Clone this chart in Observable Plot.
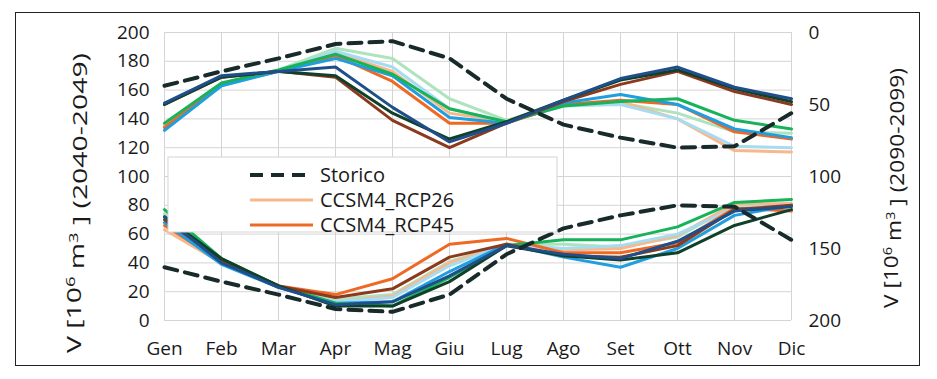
<!DOCTYPE html>
<html><head><meta charset="utf-8">
<script src="https://cdn.jsdelivr.net/npm/d3@7"></script>
<script src="https://cdn.jsdelivr.net/npm/@observablehq/plot@0.6"></script>
<style>
body{margin:0;background:#fff;}
#wrap{position:relative;width:937px;height:379px;font-family:"Open Sans",sans-serif;background:#fff;}
#wrap svg{position:absolute;left:0;top:0;}
#frame{position:absolute;left:15px;top:12px;width:905px;height:354px;border:1.5px solid #222;box-sizing:border-box;pointer-events:none;}
</style></head><body>
<div id="wrap"></div>
<script>
// Months
const months = ["Gen","Feb","Mar","Apr","Mag","Giu","Lug","Ago","Set","Ott","Nov","Dic"];
// Historical (same series shown against both axes)
const storico = [163,173,182,192,194,182,154,136,127,120,121,144];
// Series names and colours
const series = ["M3_RCP26","CCSM4_RCP26","M2_RCP26","CCSM4_RCP45","M2_RCP45","M3_RCP45","CCSM4_RCP85","M3_RCP85","M2_RCP85"];
const colors = ["#aee3bd","#f8b88b","#a6dcf2","#ee6a24","#1f9ee0","#17b25a","#8b3a1e","#10402a","#1f4f8a"];
// 2040-2049 (left axis)
const m3_rcp26_2040   = [136,164,174,189,182,154,139,150,151,144,131,130];
const ccsm4_rcp26_2040= [135,164,173,186,173,144,138,150,152,140,118,117];
const m2_rcp26_2040   = [132,163,173,187,176,147,138,149,150,140,121,120];
const ccsm4_rcp45_2040= [134,164,173,184,166,137,137,150,153,150,131,126];
const m2_rcp45_2040   = [132,163,173,182,170,141,137,151,157,150,133,127];
const m3_rcp45_2040   = [137,165,174,185,171,147,138,149,152,154,139,133];
const ccsm4_rcp85_2040= [150,169,173,169,139,120,137,152,164,173,159,150];
const m3_rcp85_2040   = [150,169,173,170,144,126,138,153,167,174,161,152];
const m2_rcp85_2040   = [151,170,173,176,148,124,137,153,168,176,162,154];
// 2090-2099 (right axis, reversed)
const m3_rcp26_2090   = [126,158,176,185,182,159,147,147,149,142,120,119];
const ccsm4_rcp26_2090= [137,160,177,187,183,160,147,151,150,141,119,119];
const m2_rcp26_2090   = [132,160,177,187,184,162,147,150,148,140,122,120];
const ccsm4_rcp45_2090= [134,159,176,182,171,147,143,153,153,146,122,124];
const m2_rcp45_2090   = [132,161,177,188,187,166,147,156,163,150,127,120];
const m3_rcp45_2090   = [123,157,176,188,190,170,148,144,144,135,118,116];
const ccsm4_rcp85_2090= [130,158,176,184,178,156,147,155,156,148,123,120];
const m3_rcp85_2090   = [128,157,176,190,190,173,148,155,158,153,134,123];
const m2_rcp85_2090   = [128,160,177,189,187,169,148,154,157,145,124,121];
// Axis ticks
const leftTicks = [0,20,40,60,80,100,120,140,160,180,200];
const rightTicks = [0,50,100,150,200];

const arr2040 = [m3_rcp26_2040,ccsm4_rcp26_2040,m2_rcp26_2040,ccsm4_rcp45_2040,m2_rcp45_2040,m3_rcp45_2040,ccsm4_rcp85_2040,m3_rcp85_2040,m2_rcp85_2040];
const arr2090 = [m3_rcp26_2090,ccsm4_rcp26_2090,m2_rcp26_2090,ccsm4_rcp45_2090,m2_rcp45_2090,m3_rcp45_2090,ccsm4_rcp85_2090,m3_rcp85_2090,m2_rcp85_2090];
const toLong = arrs => arrs.flatMap((a,i) => a.map((v,j) => ({series: series[i], month: months[j], value: v})));
const d2040 = toLong(arr2040);
const d2090 = toLong(arr2090);
const dStor = storico.map((v,j) => ({month: months[j], value: v}));
const rightMax = 200;
const flip = d => rightMax - d.value; // right axis is reversed on the same frame

const W = 937, H = 379;
const FS = 19;
const plot = Plot.plot({
  width: W, height: H,
  marginLeft: 164, marginRight: 146, marginTop: 32, marginBottom: 59,
  style: {fontFamily: '"Open Sans", sans-serif', fontSize: FS + "px", color: "#1a1a1a", background: "transparent"},
  x: {type: "point", domain: months, padding: 0},
  y: {domain: [0, 200]},
  color: {domain: series, range: colors},
  marks: [
    Plot.gridY(leftTicks, {stroke: "#d4d4d4", strokeOpacity: 1, strokeWidth: 1}),
    Plot.gridX(months, {stroke: "#d4d4d4", strokeOpacity: 1, strokeWidth: 1}),
    Plot.line(d2090, {x: "month", y: flip, z: "series", stroke: "series", strokeWidth: 3, strokeLinejoin: "miter"}),
    Plot.line(d2040, {x: "month", y: "value", z: "series", stroke: "series", strokeWidth: 3, strokeLinejoin: "miter"}),
    Plot.line(dStor, {x: "month", y: flip, stroke: "#182a2a", strokeWidth: 4, strokeDasharray: "13,8"}),
    Plot.line(dStor, {x: "month", y: "value", stroke: "#182a2a", strokeWidth: 4, strokeDasharray: "13,8"}),
    Plot.axisY(leftTicks, {anchor: "left", tickSize: 0, tickPadding: 15, label: null, fontSize: FS}),
    Plot.axisY(rightTicks.map(t => rightMax - t), {anchor: "right", tickSize: 0, tickPadding: 17, label: null, fontSize: FS, tickFormat: d => rightMax - d}),
    Plot.axisX(months, {anchor: "bottom", tickSize: 0, tickPadding: 21, label: null, fontSize: FS})
  ]
});
const wrap = document.getElementById("wrap");
wrap.appendChild(plot);

// Overlay: legend box (inside plot) and axis titles
const ov = d3.create("svg").attr("width", W).attr("height", H)
  .style("font-family", '"Open Sans", sans-serif').style("pointer-events","none");
wrap.appendChild(ov.node());
const lg = ov.append("g");
lg.append("rect").attr("x",168).attr("y",157).attr("width",389).attr("height",75)
  .attr("fill","#fff").attr("stroke","#d4d4d4").attr("stroke-width",1);
const legendItems = [
  {name: "Storico", color: "#182a2a", dash: "13,8", w: 4},
  {name: "CCSM4_RCP26", color: colors[series.indexOf("CCSM4_RCP26")], dash: null, w: 3},
  {name: "CCSM4_RCP45", color: colors[series.indexOf("CCSM4_RCP45")], dash: null, w: 3}
];
legendItems.forEach((it, i) => {
  const yy = 175 + i * 25;
  const ln = lg.append("line").attr("x1",250).attr("x2",313).attr("y1",yy).attr("y2",yy)
    .attr("stroke",it.color).attr("stroke-width",it.w);
  if (it.dash) ln.attr("stroke-dasharray", it.dash);
  lg.append("text").attr("x",320).attr("y",yy).attr("dy","0.35em")
    .attr("font-size",20).attr("fill","#1a1a1a").text(it.name);
});
function vtitle(x, y, period, len){
  const g = ov.append("g");
  const t = g.append("text")
    .attr("text-anchor","middle").attr("dy","0.35em").attr("font-size",20).attr("fill","#1a1a1a");
  t.append("tspan").text("V [10");
  t.append("tspan").attr("font-size",13).attr("dy","-0.45em").text("6");
  t.append("tspan").attr("dy","0.45em").text(" m");
  t.append("tspan").attr("font-size",13).attr("dy","-0.45em").text("3");
  t.append("tspan").attr("dy","0.45em").text(" ] (" + period + ")");
  const natural = t.node().getComputedTextLength() || len;
  g.attr("transform",`translate(${x},${y}) rotate(-90) scale(${len / natural},1)`);
}
vtitle(74, 203, "2040-2049", 300);
vtitle(891, 188, "2090-2099", 240);
const fr = document.createElement("div"); fr.id = "frame"; wrap.appendChild(fr);
</script>
</body></html>
